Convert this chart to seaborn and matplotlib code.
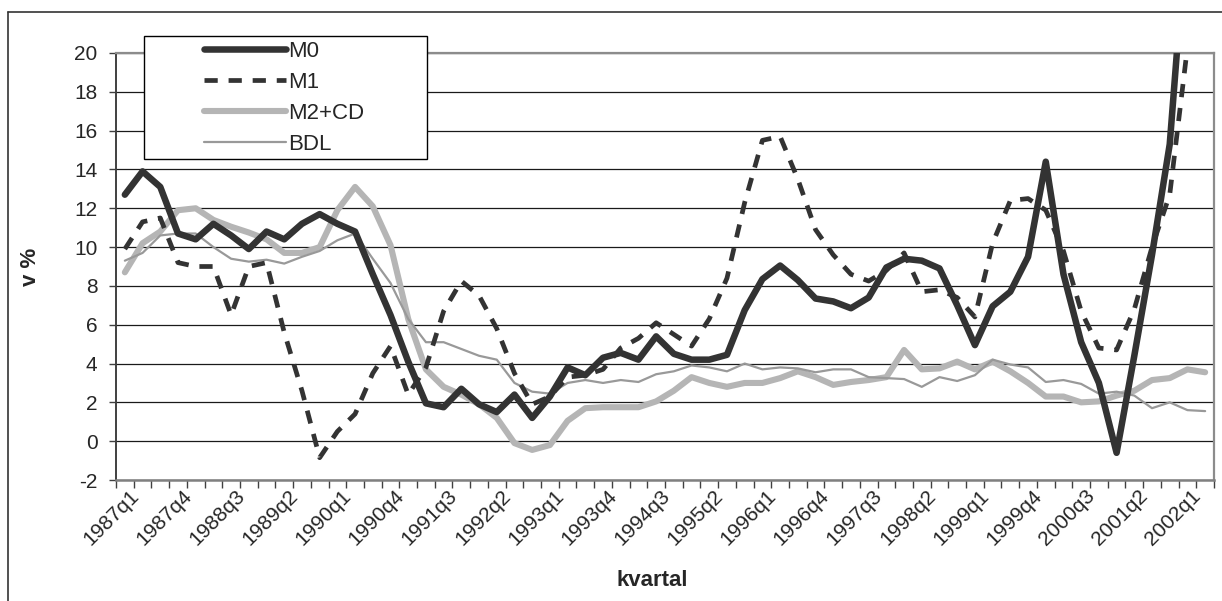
import matplotlib
matplotlib.use('Agg')
import matplotlib.pyplot as plt
import seaborn as sns
import numpy as np
import pandas as pd
from matplotlib.patches import Rectangle
from matplotlib.lines import Line2D

quarters = [
    "1987q1", "1987q2", "1987q3", "1987q4", "1988q1", "1988q2", "1988q3", "1988q4",
    "1989q1", "1989q2", "1989q3", "1989q4", "1990q1", "1990q2", "1990q3", "1990q4",
    "1991q1", "1991q2", "1991q3", "1991q4", "1992q1", "1992q2", "1992q3", "1992q4",
    "1993q1", "1993q2", "1993q3", "1993q4", "1994q1", "1994q2", "1994q3", "1994q4",
    "1995q1", "1995q2", "1995q3", "1995q4", "1996q1", "1996q2", "1996q3", "1996q4",
    "1997q1", "1997q2", "1997q3", "1997q4", "1998q1", "1998q2", "1998q3", "1998q4",
    "1999q1", "1999q2", "1999q3", "1999q4", "2000q1", "2000q2", "2000q3", "2000q4",
    "2001q1", "2001q2", "2001q3", "2001q4", "2002q1", "2002q2",
]

m0 = [12.7, 13.9, 13.1, 10.7, 10.4, 11.2, 10.6, 9.9, 10.8, 10.4, 11.2, 11.7,
      11.2, 10.8, 8.6, 6.5, 4.1, 1.95, 1.75, 2.7, 1.9, 1.5, 2.4, 1.2,
      2.3, 3.8, 3.4, 4.3, 4.55, 4.2, 5.4, 4.5, 4.2, 4.2, 4.45, 6.75,
      8.35, 9.05, 8.3, 7.35, 7.2, 6.85, 7.4, 8.95, 9.4, 9.3, 8.9, 7.0,
      4.95, 6.95, 7.7, 9.5, 14.4, 8.6, 5.1, 3.0, -0.6, 4.4, 9.6, 15.3,
      27.0, 30.0]

m1 = [9.9, 11.3, 11.5, 9.2, 9.0, 9.0, 6.5, 9.0, 9.2, 5.6, 2.6, -0.85,
      0.5, 1.4, 3.5, 4.9, 2.4, 3.8, 6.7, 8.25, 7.5, 5.8, 3.5, 1.9,
      2.3, 3.3, 3.4, 3.7, 4.8, 5.3, 6.1, 5.5, 4.9, 6.3, 8.4, 12.3,
      15.5, 15.7, 13.5, 10.9, 9.6, 8.6, 8.25, 8.8, 9.7, 7.7, 7.8, 7.4,
      6.4, 10.2, 12.4, 12.5, 11.9, 9.8, 6.7, 4.8, 4.7, 6.8, 10.0, 12.7,
      20.3, 24.0]

m2cd = [8.7, 10.2, 10.8, 11.9, 12.0, 11.4, 11.05, 10.75, 10.4, 9.7, 9.7, 10.0,
        11.9, 13.1, 12.1, 10.1, 6.3, 3.7, 2.8, 2.4, 1.9, 1.2, -0.1, -0.45,
        -0.2, 1.05, 1.7, 1.75, 1.75, 1.75, 2.05, 2.6, 3.3, 3.0, 2.8, 3.0,
        3.0, 3.25, 3.6, 3.3, 2.9, 3.05, 3.15, 3.3, 4.7, 3.7, 3.75, 4.1,
        3.7, 4.1, 3.6, 3.0, 2.3, 2.3, 2.0, 2.05, 2.35, 2.6, 3.15, 3.25,
        3.7, 3.55]

bdl = [9.3, 9.7, 10.6, 10.7, 10.7, 10.0, 9.4, 9.25, 9.35, 9.15, 9.5, 9.8,
       10.35, 10.7, 9.4, 8.15, 6.3, 5.1, 5.1, 4.75, 4.4, 4.2, 3.0, 2.55,
       2.45, 3.0, 3.15, 3.0, 3.15, 3.05, 3.45, 3.6, 3.9, 3.8, 3.6, 4.0,
       3.7, 3.8, 3.75, 3.55, 3.7, 3.7, 3.3, 3.25, 3.2, 2.8, 3.3, 3.1,
       3.4, 4.2, 3.95, 3.8, 3.05, 3.15, 2.95, 2.45, 2.55, 2.35, 1.7, 2.0,
       1.6, 1.55]

y_ticks = [-2, 0, 2, 4, 6, 8, 10, 12, 14, 16, 18, 20]

sns.set_style('white')
plt.rcParams['font.family'] = ['Liberation Sans', 'DejaVu Sans']

W, H = 1222, 601
fig = plt.figure(figsize=(W / 100, H / 100), dpi=100)
fig.patch.set_facecolor('white')
ax = fig.add_axes([116 / W, 1 - 480 / H, 1098 / W, 427 / H])

pos = np.arange(len(quarters))
df = pd.DataFrame({'pos': pos, 'kvartal': quarters, 'M0': m0, 'M1': m1,
                   'M2+CD': m2cd, 'BDL': bdl})

sns.lineplot(data=df, x='pos', y='M2+CD', ax=ax, color='#b5b5b5', lw=4.4,
             label='M2+CD', zorder=3)
sns.lineplot(data=df, x='pos', y='BDL', ax=ax, color='#999999', lw=1.6,
             label='BDL', zorder=4)
sns.lineplot(data=df, x='pos', y='M1', ax=ax, color='#333333', lw=3.4,
             label='M1', zorder=5, dashes=False)
sns.lineplot(data=df, x='pos', y='M0', ax=ax, color='#333333', lw=4.7,
             label='M0', zorder=6)
for ln in ax.get_lines():
    if ln.get_label() == 'M1':
        ln.set_dashes((2.8, 2.3))

ax.set_xlim(-0.5, len(quarters) - 0.5)
ax.set_ylim(-2, 20)
ax.set_yticks(y_ticks)
ax.set_yticklabels([str(v) for v in y_ticks], fontsize=15)

ax.yaxis.grid(True, color='#1a1a1a', lw=0.9)
ax.xaxis.grid(False)
ax.set_axisbelow(True)

# tick marks between categories, labels every third category
ax.set_xticks(np.arange(-0.5, len(quarters) + 0.5, 1))
ax.set_xticklabels([])
ax.set_xticks(pos[::3] + 0.6, minor=True)
ax.set_xticklabels(quarters[::3], minor=True, rotation=45, ha='right',
                   va='center', rotation_mode='anchor', fontsize=15)
ax.tick_params(axis='x', which='major', direction='out', length=5.5,
               width=1, color='#404040', bottom=True)
ax.tick_params(axis='x', which='minor', length=0, pad=9.5, bottom=True)
ax.tick_params(axis='y', which='major', direction='out', length=5.3,
               width=1, color='#404040', pad=8, left=True)

for side in ['top', 'right']:
    ax.spines[side].set_color('#8c8c8c')
    ax.spines[side].set_linewidth(1.6)
ax.spines['left'].set_color('#404040')
ax.spines['left'].set_linewidth(1.4)
ax.spines['bottom'].set_color('#808080')
ax.spines['bottom'].set_linewidth(1.8)

ax.set_xlabel('kvartal', fontsize=16, fontweight='bold')
ax.set_ylabel('v %', fontsize=16, fontweight='bold')
ax.xaxis.set_label_coords((652 - 116) / 1098, (480 - 581) / 427)
ax.xaxis.label.set_va('center')
ax.yaxis.set_label_coords((30 - 116) / 1098, (480 - 267) / 427)
ax.yaxis.label.set_va('center')

# legend box
rect = Rectangle((144 / W, 1 - 159 / H), 283 / W, 123 / H,
                 transform=fig.transFigure, facecolor='white',
                 edgecolor='black', lw=1.0, zorder=10, clip_on=False)
ax.add_patch(rect)

handles, labels = ax.get_legend_handles_labels()
order = ['M0', 'M1', 'M2+CD', 'BDL']
hmap = dict(zip(labels, handles))
if ax.get_legend() is not None:
    ax.get_legend().remove()
leg = ax.legend([hmap[k] for k in order], order, loc='upper left',
                bbox_to_anchor=(204 / W, 1 - 41 / H),
                bbox_transform=fig.transFigure, frameon=False,
                fontsize=16, handlelength=3.7, handletextpad=0.1,
                labelspacing=0.45, borderpad=0, borderaxespad=0)
leg.set_zorder(11)

# outer chart frame
fig.add_artist(Line2D([8 / W, 1.0], [1 - 12 / H, 1 - 12 / H],
                      transform=fig.transFigure, color='#333333', lw=1.2))
fig.add_artist(Line2D([8 / W, 8 / W], [1 - 12 / H, 0.0],
                      transform=fig.transFigure, color='#333333', lw=1.2))

fig.savefig('out.png', dpi=100)
